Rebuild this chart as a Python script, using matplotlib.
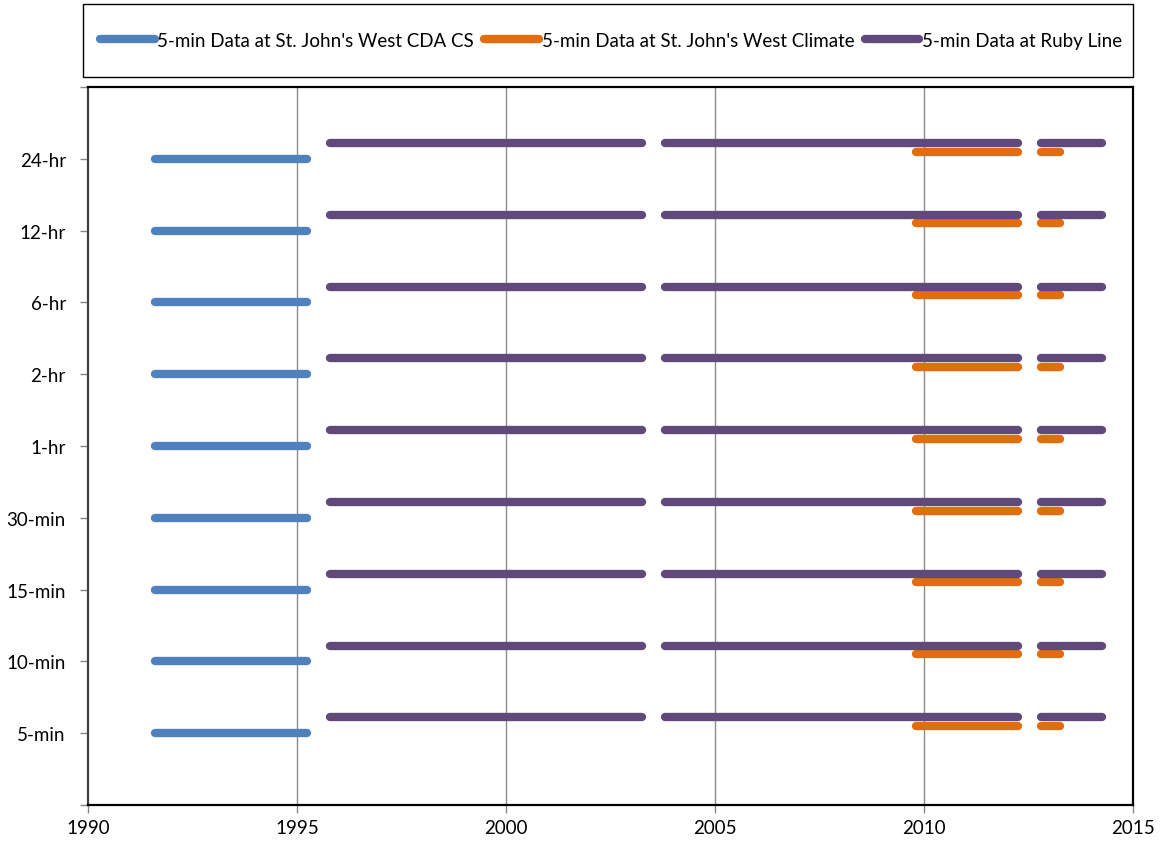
import matplotlib
matplotlib.use("Agg")
import matplotlib.pyplot as plt
from matplotlib.patches import Rectangle
from matplotlib.lines import Line2D

plt.rcParams['font.family'] = ['Lato', 'DejaVu Sans']

# Rainfall durations (y categories, bottom to top)
durations = ['5-min', '10-min', '15-min', '30-min', '1-hr', '2-hr', '6-hr', '12-hr', '24-hr']

# Periods of record (start year, end year) for each station
cda_periods = [(1991.6, 1995.25)]
climate_periods = [(2009.8, 2012.25), (2012.8, 2013.25)]
ruby_periods = [(1995.8, 2003.25), (2003.8, 2012.25), (2012.8, 2014.25)]

series_names = ["5-min Data at St. John's West CDA CS",
                "5-min Data at St. John's West Climate",
                "5-min Data at Ruby Line"]
x_ticks = [1990, 1995, 2000, 2005, 2010, 2015]

colors = ['#4F81BD', '#E46C0A', '#604A7B']
row_offsets = [0.0, 0.1, 0.22]
lw = 6.0

fig = plt.figure(figsize=(11.63, 8.45), dpi=100)
ax = fig.add_axes([88/1163, 39/845, 1045/1163, 718/845])

for periods, color, off in zip([cda_periods, climate_periods, ruby_periods], colors, row_offsets):
    for i, _ in enumerate(durations):
        y = i + 1 + off
        for (s, e) in periods:
            ax.plot([s, e], [y, y], color=color, lw=lw, solid_capstyle='round', zorder=3)

ax.set_xlim(1990, 2015)
ax.set_ylim(0, 10)
ax.set_xticks(x_ticks)
ax.set_xticklabels([str(t) for t in x_ticks], fontsize=13.5)
ax.set_yticks(range(0, 11))
ax.set_yticklabels([''] + durations + [''], fontsize=13.5)
ax.tick_params(axis='both', direction='out', length=6, color='#888888', width=1)
ax.tick_params(axis='y', pad=10)
ax.tick_params(axis='x', pad=4)

for x in x_ticks[1:-1]:
    ax.axvline(x, color='#8C8C8C', lw=1.0, zorder=1)

for side in ['top', 'right', 'bottom', 'left']:
    ax.spines[side].set_color('black')
    ax.spines[side].set_linewidth(1.6)
ax.spines['left'].set_color('#404040')

# Legend box above the plot
fig.patches.append(Rectangle((83/1163, (845-78)/845), 1050/1163, 73/845,
                             transform=fig.transFigure, fill=False,
                             edgecolor='black', lw=1.0))
handles = [Line2D([0], [0], color=c, lw=lw, solid_capstyle='round') for c in colors]
fig.legend(handles, series_names, loc='center',
           bbox_to_anchor=((83 + 528)/1163, (845 - 41.5)/845),
           ncol=3, frameon=False, fontsize=13.5, handlelength=2.9,
           handletextpad=0.15, columnspacing=0.55)

fig.savefig('out.png', dpi=100)
